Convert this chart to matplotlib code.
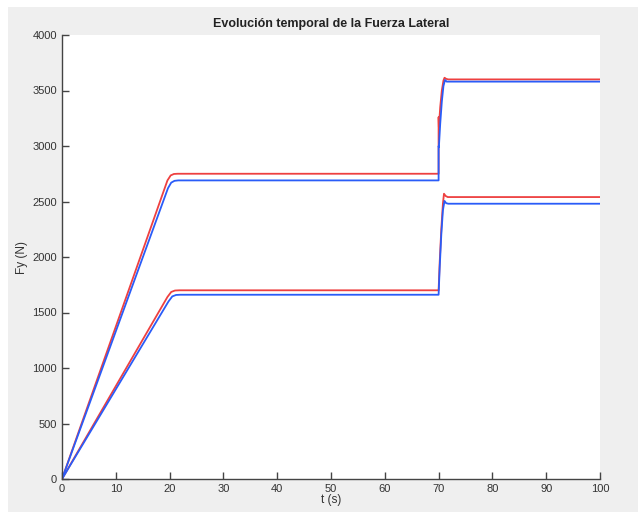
import matplotlib
matplotlib.use('Agg')
import matplotlib.pyplot as plt
from matplotlib.patches import Rectangle

# ── Lateral force traces (t in s, Fy in N) ──
t_ru = [0, 19.6, 20.2, 20.8, 21.5, 70.0, 70.0, 70.05, 70.3, 70.6, 70.9, 71.1, 71.4, 71.8, 100]
fy_ru = [0, 2690, 2735, 2748, 2750, 2750, 3260, 3170, 3350, 3500, 3590, 3615, 3605, 3600, 3600]

t_bu = [0, 19.7, 20.3, 20.9, 21.6, 70.0, 70.0, 70.05, 70.3, 70.6, 70.9, 71.2, 71.5, 72.0, 100]
fy_bu = [0, 2620, 2670, 2686, 2690, 2690, 3000, 2990, 3200, 3400, 3540, 3595, 3580, 3580, 3580]

t_rl = [0, 19.6, 20.3, 21.0, 21.8, 70.0, 70.2, 70.5, 70.8, 71.0, 71.3, 71.7, 100]
fy_rl = [0, 1640, 1685, 1698, 1700, 1700, 1950, 2250, 2480, 2570, 2550, 2540, 2540]

t_bl = [0, 19.8, 20.5, 21.2, 22.0, 70.0, 70.2, 70.5, 70.8, 71.1, 71.4, 71.8, 100]
fy_bl = [0, 1600, 1645, 1658, 1660, 1660, 1900, 2200, 2420, 2505, 2485, 2480, 2480]

xticks = list(range(0, 101, 10))
yticks = list(range(0, 4001, 500))

plt.rcParams['font.family'] = ['Liberation Sans', 'DejaVu Sans']

fig = plt.figure(figsize=(6.38, 5.12), dpi=100)
fig.patch.set_facecolor('white')
# grey window background, leaving a thin white strip top and left
fig.add_artist(Rectangle((8 / 638, 0), 1, 1 - 7 / 512, transform=fig.transFigure,
                         facecolor='#efefef', edgecolor='none', zorder=-10))

ax = fig.add_axes([62 / 638, 1 - 479 / 512, 538 / 638, 444 / 512])
ax.set_facecolor('white')

red = '#ee4040'
blue = '#2a5cf8'
ax.plot(t_ru, fy_ru, color=red, lw=1.3)
ax.plot(t_rl, fy_rl, color=red, lw=1.3)
ax.plot(t_bu, fy_bu, color=blue, lw=1.3)
ax.plot(t_bl, fy_bl, color=blue, lw=1.3)

ax.set_xlim(0, 100)
ax.set_ylim(0, 4000)
ax.set_xticks(xticks)
ax.set_yticks(yticks)
ax.tick_params(direction='in', length=5, width=1, color='#444444',
               labelsize=8, labelcolor='#333333', top=False, right=False)
for s in ['top', 'right']:
    ax.spines[s].set_visible(False)
for s in ['left', 'bottom']:
    ax.spines[s].set_color('#444444')
    ax.spines[s].set_linewidth(1.0)

ax.set_title('Evolución temporal de la Fuerza Lateral', fontsize=9, fontweight='bold',
             color='#222222', pad=6)
ax.set_xlabel('t (s)', fontsize=8.5, color='#333333', labelpad=0)
ax.set_ylabel('Fy (N)', fontsize=8.5, color='#333333', labelpad=3)

fig.savefig('out.png', dpi=100, facecolor=fig.get_facecolor())
